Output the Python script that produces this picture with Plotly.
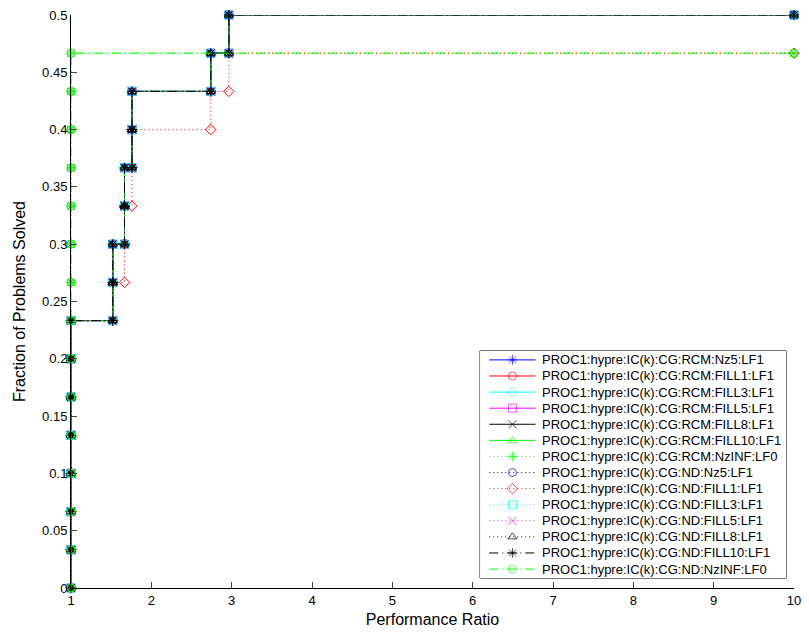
import plotly.graph_objects as go

# Performance profile: 30 test problems, ratios to best solver (failures omitted)
N_PROBLEMS = 30
TAU_MAX = 10.0

solvers = [
    "PROC1:hypre:IC(k):CG:RCM:Nz5:LF1",
    "PROC1:hypre:IC(k):CG:RCM:FILL1:LF1",
    "PROC1:hypre:IC(k):CG:RCM:FILL3:LF1",
    "PROC1:hypre:IC(k):CG:RCM:FILL5:LF1",
    "PROC1:hypre:IC(k):CG:RCM:FILL8:LF1",
    "PROC1:hypre:IC(k):CG:RCM:FILL10:LF1",
    "PROC1:hypre:IC(k):CG:RCM:NzINF:LF0",
    "PROC1:hypre:IC(k):CG:ND:Nz5:LF1",
    "PROC1:hypre:IC(k):CG:ND:FILL1:LF1",
    "PROC1:hypre:IC(k):CG:ND:FILL3:LF1",
    "PROC1:hypre:IC(k):CG:ND:FILL5:LF1",
    "PROC1:hypre:IC(k):CG:ND:FILL8:LF1",
    "PROC1:hypre:IC(k):CG:ND:FILL10:LF1",
    "PROC1:hypre:IC(k):CG:ND:NzINF:LF0",
]

ratios_fill = [1, 1, 1, 1, 1, 1, 1, 1.52, 1.52, 1.666, 1.666, 1.76, 1.76, 2.74, 2.965]
ratios_nd_fill1 = [1, 1, 1, 1, 1, 1, 1, 1.52, 1.666, 1.666, 1.76, 1.76, 2.74, 2.965]
ratios_nzinf = [1, 1, 1, 1, 1, 1, 1, 1, 1, 1, 1, 1, 1, 1]

ratios = [
    ratios_fill, ratios_fill, ratios_fill, ratios_fill, ratios_fill, ratios_fill,
    ratios_nzinf,
    ratios_fill, ratios_nd_fill1, ratios_fill, ratios_fill, ratios_fill, ratios_fill,
    ratios_nzinf,
]

colors = ["#0000ff", "#ff0000", "#00ffff", "#ff00ff", "#000000", "#00ff00", "#00ff00",
          "#0000ff", "#ff0000", "#00ffff", "#ff00ff", "#000000", "#000000", "#00ff00"]
DOT = "1px,3px"
DASHDOT = "9px,4px,1px,4px"
dashes = ["solid"] * 6 + [DOT] * 6 + [DASHDOT, DASHDOT]
symbols = ["asterisk-open", "circle-open", "diamond-open", "square-open", "x-thin-open",
           "triangle-up-open", "asterisk-open", "circle-open", "diamond-open", "square-open",
           "x-thin-open", "triangle-up-open", "asterisk-open", "circle-open"]

y_ticks = [0, 0.05, 0.1, 0.15, 0.2, 0.25, 0.3, 0.35, 0.4, 0.45, 0.5]
y_tick_text = ["0", "0.05", "0.1", "0.15", "0.2", "0.25", "0.3", "0.35", "0.4", "0.45", "0.5"]
x_ticks = [1, 2, 3, 4, 5, 6, 7, 8, 9, 10]


def stair_corners(r, n, tau_max):
    """Corner points of the step profile, starting from zero at the first ratio."""
    xs, ys = [], []
    for i, v in enumerate(r, start=1):
        xs += [v, v]
        ys += [(i - 1) / n, i / n]
    xs.append(tau_max)
    ys.append(len(r) / n)
    return xs, ys


fig = go.Figure()
for name, r, c, d, s in zip(solvers, ratios, colors, dashes, symbols):
    xs, ys = stair_corners(r, N_PROBLEMS, TAU_MAX)
    fig.add_trace(go.Scatter(
        x=xs, y=ys, name=name, mode="lines+markers", showlegend=False,
        line=dict(color=c, width=1, dash=d),
        marker=dict(symbol=s, size=8, color=c, line=dict(color=c, width=1)),
        cliponaxis=False,
    ))

# Boxed legend in the lower right, laid out on its own hidden axes
# (x in pixels from the box's left edge, y in legend rows).
LEG_X = [0.5658, 0.9890]
LEG_Y = [0.0173, 0.4142]
SAMPLE_X = [9.3, 32.7, 56.0]
TEXT_X = 61.0
for row, (name, c, d, s) in enumerate(zip(solvers, colors, dashes, symbols)):
    fig.add_trace(go.Scatter(
        x=SAMPLE_X, y=[row] * 3, xaxis="x2", yaxis="y2",
        mode="lines+markers", showlegend=False, hoverinfo="skip",
        line=dict(color=c, width=1, dash=d),
        marker=dict(symbol=s, size=[0, 8, 0], color=c, line=dict(color=c, width=1)),
    ))
    fig.add_annotation(
        x=TEXT_X, y=row, xref="x2", yref="y2", text=name, showarrow=False,
        xanchor="left", yanchor="middle",
        font=dict(family="Liberation Sans, Arial, sans-serif", size=13, color="black"),
    )

fig.add_shape(
    type="rect", xref="paper", yref="paper",
    x0=LEG_X[0], x1=LEG_X[1], y0=LEG_Y[0], y1=LEG_Y[1],
    line=dict(color="black", width=1), fillcolor="white", layer="below",
)

font = "Liberation Sans, Arial, Helvetica, sans-serif"
fig.update_layout(
    width=809, height=634,
    margin=dict(l=71, r=8, t=12, b=45),
    paper_bgcolor="white", plot_bgcolor="white",
    font=dict(family=font, size=13, color="black"),
    showlegend=False,
    xaxis=dict(
        range=[1, 10], tickvals=x_ticks, ticks="inside", ticklen=6,
        showline=True, linecolor="black", linewidth=1, showgrid=False, zeroline=False,
        title=dict(text="Performance Ratio", standoff=7),
        tickfont=dict(size=13),
    ),
    yaxis=dict(
        range=[0, 0.5], tickvals=y_ticks, ticktext=y_tick_text, ticks="inside", ticklen=6,
        showline=True, linecolor="black", linewidth=1, showgrid=False, zeroline=False,
        title=dict(text="Fraction of Problems Solved", standoff=12),
        tickfont=dict(size=13),
    ),
    xaxis2=dict(domain=LEG_X, range=[0, 309], anchor="y2", visible=False, fixedrange=True),
    yaxis2=dict(domain=LEG_Y, range=[13.56, -0.574], anchor="x2", visible=False, fixedrange=True),
)

fig.write_html("out.html")
